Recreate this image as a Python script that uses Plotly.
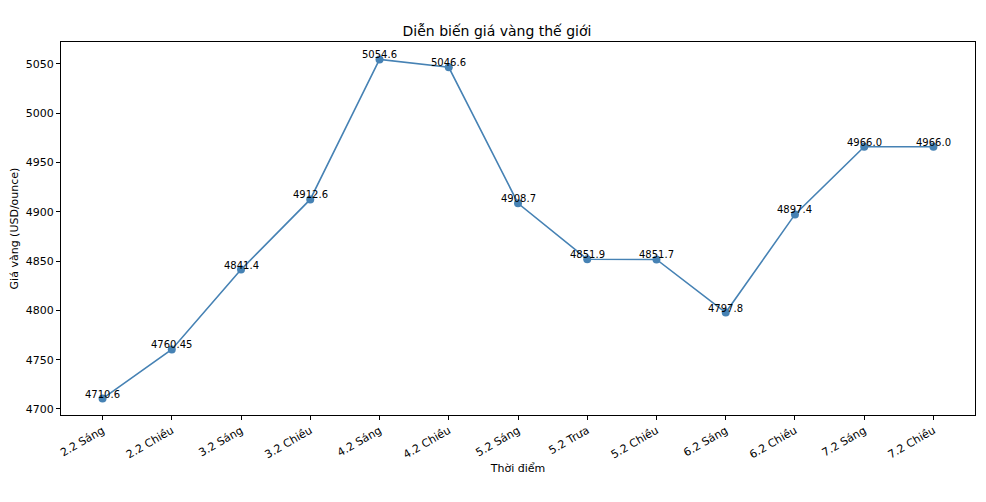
import plotly.graph_objects as go

categories = ["2.2 Sáng", "2.2 Chiều", "3.2 Sáng", "3.2 Chiều", "4.2 Sáng", "4.2 Chiều",
              "5.2 Sáng", "5.2 Trưa", "5.2 Chiều", "6.2 Sáng", "6.2 Chiều", "7.2 Sáng", "7.2 Chiều"]
prices = [4710.6, 4760.45, 4841.4, 4912.6, 5054.6, 5046.6, 4908.7, 4851.9, 4851.7, 4797.8, 4897.4, 4966.0, 4966.0]
price_labels = ["4710.6", "4760.45", "4841.4", "4912.6", "5054.6", "5046.6", "4908.7", "4851.9",
                "4851.7", "4797.8", "4897.4", "4966.0", "4966.0"]
y_ticks = [4700, 4750, 4800, 4850, 4900, 4950, 5000, 5050]

xs = list(range(len(categories)))
font = "DejaVu Sans"
W, H = 978, 494
fig = go.Figure()
fig.add_trace(go.Scatter(
    x=xs, y=prices, mode="lines+markers",
    line=dict(color="#4682b4", width=1.6),
    marker=dict(color="#4682b4", size=8),
    hoverinfo="skip",
))
for x, y, t in zip(xs, prices, price_labels):
    fig.add_annotation(x=x, y=y, text=t, showarrow=False, yanchor="bottom",
                       xanchor="center", yshift=-3,
                       font=dict(family=font, size=10, color="black"))

axis_common = dict(showline=True, linecolor="black", linewidth=1, mirror=True,
                   ticks="outside", ticklen=4, tickcolor="black", showgrid=False,
                   zeroline=False, automargin=False,
                   tickfont=dict(family=font, size=11, color="black"))
fig.update_layout(
    width=W, height=H,
    margin=dict(l=53, r=11, t=34, b=87),
    paper_bgcolor="white", plot_bgcolor="white",
    showlegend=False,
    title=dict(text="Diễn biến giá vàng thế giới", x=0.5, xanchor="center",
               y=1 - 23 / H, yref="container", yanchor="middle",
               font=dict(family=font, size=14, color="black")),
    xaxis=dict(range=[-0.6, 12.6], tickmode="array", tickvals=xs, ticktext=categories,
               tickangle=-30,
               title=dict(text="Thời điểm", font=dict(family=font, size=11, color="black"), standoff=4),
               **axis_common),
    yaxis=dict(range=[4693.9, 5072.3], tickmode="array", tickvals=y_ticks,
               ticktext=[str(v) for v in y_ticks],
               title=dict(text="Giá vàng (USD/ounce)", font=dict(family=font, size=11, color="black"), standoff=8),
               **axis_common),
)
fig.write_html("out.html")
